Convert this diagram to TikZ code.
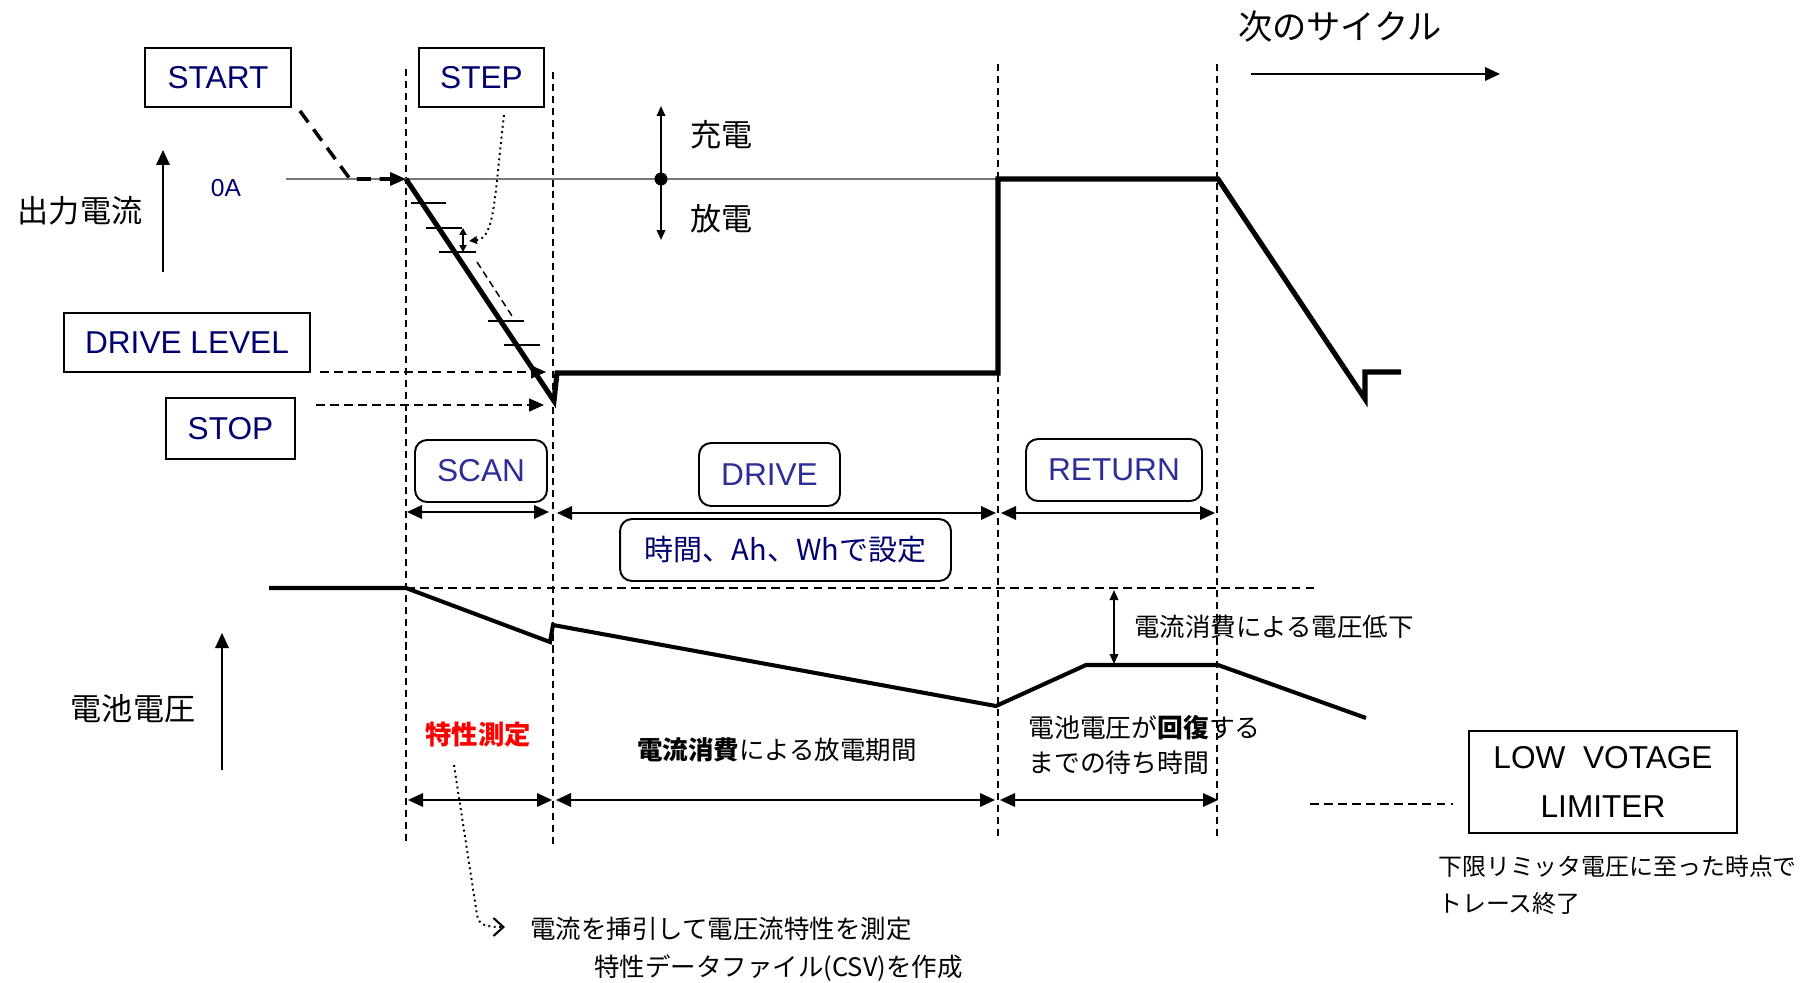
\documentclass[tikz,border=0pt]{standalone}
\usepackage{fontspec}
\setmainfont{Liberation Sans}
\newfontfamily\jp{Noto Sans CJK JP}
\usetikzlibrary{arrows.meta,calc}
\definecolor{navy}{RGB}{0,0,110}
\definecolor{lblue}{RGB}{45,45,150}
\definecolor{zgray}{RGB}{120,120,120}
\tikzset{
  lbl/.style={draw=black, line width=1.1pt, text=navy, font=\fontsize{18}{20}\selectfont, inner sep=0pt},
  rbox/.style={draw=black, line width=1.1pt, rounded corners=0.24cm, text=lblue, font=\fontsize{18}{20}\selectfont, inner sep=0pt},
  vdash/.style={line width=0.85pt, dash pattern=on 4pt off 2.8pt},
  hdash/.style={line width=0.85pt, dash pattern=on 5pt off 3pt},
  thickc/.style={line width=2.9pt},
  volt/.style={line width=2.3pt},
  tri/.tip={Triangle[length=0.3cm,width=0.27cm]},
  darr/.style={line width=1.1pt, tri-tri},
  sarr/.style={line width=1.1pt, {Triangle[length=0.2cm,width=0.17cm]}-{Triangle[length=0.2cm,width=0.17cm]}},
  jpt/.style={font=\jp\fontsize{14.5}{18}\selectfont, inner sep=0pt},
  jpbig/.style={font=\jp\fontsize{17.7}{20}\selectfont, inner sep=0pt},
  tick/.style={line width=1.1pt},
}
\begin{document}
\begin{tikzpicture}[x=0.02cm,y=-0.02cm]
\useasboundingbox (0,0) rectangle (1811,983);

% vertical dashed guide lines
\coordinate (v1t) at (406,69);  \coordinate (v1b) at (406,841);
\coordinate (v2t) at (553,72);  \coordinate (v2b) at (553,847);
\coordinate (v3t) at (998,64);  \coordinate (v3b) at (998,840);
\coordinate (v4t) at (1217,64); \coordinate (v4b) at (1217,840);
\draw[vdash] (v1t) -- (v1b);
\draw[vdash] (v2t) -- (v2b);
\draw[vdash] (v3t) -- (v3b);
\draw[vdash] (v4t) -- (v4b);

% label boxes
\node[lbl, minimum width=2.92cm, minimum height=1.18cm] (start) at (218,77.5) {START};
\node[lbl, minimum width=2.5cm, minimum height=1.18cm] (step) at (481.5,77.5) {STEP};
\node[lbl, minimum width=4.92cm, minimum height=1.18cm] (dlevel) at (187,342.5) {DRIVE LEVEL};
\node[lbl, minimum width=2.58cm, minimum height=1.22cm] (stop) at (230.5,428.5) {STOP};
\node[rbox, minimum width=2.64cm, minimum height=1.24cm] (scan) at (481,471) {SCAN};
\node[rbox, minimum width=2.82cm, minimum height=1.26cm] (drive) at (769.5,474.5) {DRIVE};
\node[rbox, minimum width=3.52cm, minimum height=1.24cm] (return) at (1114,470) {RETURN};
\node[rbox, text=navy, font=\jp\fontsize{16.5}{20}\selectfont, minimum width=6.62cm, minimum height=1.24cm] (setting) at (785.5,550) {時間、Ah、Whで設定};
\node[draw=black, line width=1.1pt, inner sep=0pt, minimum width=5.36cm, minimum height=2.04cm, align=center, font=\fontsize{18}{28}\selectfont] (lvl) at (1603,782) {LOW\ \ VOTAGE\\LIMITER};

% axis labels
\node[jpbig] (iout) at (80,211) {出力電流};
\node[jpbig] (vbat) at (133,709) {電池電圧};
\coordinate (ia0) at (163,272); \coordinate (ia1) at (163,150);
\draw[line width=1.1pt, -tri] (ia0) -- (ia1);
\coordinate (va0) at (222,770); \coordinate (va1) at (222,633);
\draw[line width=1.1pt, -tri] (va0) -- (va1);
\node[text=navy, font=\fontsize{14}{16}\selectfont, inner sep=0pt] (zeroA) at (226,188) {0A};

% next cycle
\node[font=\jp\fontsize{19.5}{22}\selectfont, inner sep=0pt] (next) at (1340,27) {次のサイクル};
\coordinate (n0) at (1251,74); \coordinate (n1) at (1500,74);
\draw[line width=1.1pt, -tri] (n0) -- (n1);

% zero current line
\coordinate (z0) at (286,179); \coordinate (z1) at (998,179);
\draw[zgray, line width=0.8pt] (z0) -- (z1);

% charge / discharge
\coordinate (cd0) at (661,106); \coordinate (cd1) at (661,240); \coordinate (cdm) at (661,179);
\draw[sarr] (cd0) -- (cd1);
\fill (cdm) circle[radius=0.13cm];
\node[jpbig, anchor=west] (chg) at (690,135) {充電};
\node[jpbig, anchor=west] (dchg) at (690,219) {放電};

% output current waveform
\coordinate (c0) at (406,179);
\coordinate (c1) at (554,401);
\coordinate (c2) at (557,373);
\coordinate (c3) at (998,373);
\coordinate (c4) at (998,179);
\coordinate (c5) at (1218,179);
\coordinate (c6) at (1365,399);
\coordinate (c7) at (1365,372);
\coordinate (c8) at (1401,372);
\draw[thickc] (c0) -- (c1) -- (c2) -- (c3) -- (c4) -- (c5) -- (c6) -- (c7) -- (c8);

% steps
\draw[tick] (411,203) -- (446,203);
\draw[tick] (426,228) -- (462,228);
\draw[tick] (439,252) -- (476,252);
\draw[tick] (488,321) -- (524,321);
\draw[tick] (504,345) -- (540,345);
\coordinate (sa0) at (463,228); \coordinate (sa1) at (463,252);
\draw[line width=1.1pt, {Triangle[length=0.14cm,width=0.14cm]}-{Triangle[length=0.14cm,width=0.14cm]}] (sa0) -- (sa1);
\coordinate (pd0) at (477,262); \coordinate (pd1) at (512,316);
\draw[line width=0.85pt, dash pattern=on 4pt off 2.5pt] (pd0) -- (pd1);
\coordinate (st0) at (504,115); \coordinate (st1) at (469,241);
\draw[line width=1.1pt, dotted, -{Triangle[length=0.16cm,width=0.15cm]}] (st0) .. controls (494,200) and (495,238) .. (st1);

% START arrow
\coordinate (sd0) at ($(start.south east)+(8,3)$);
\coordinate (sd1) at (350,179);
\draw[line width=2pt, dash pattern=on 8pt off 5pt, -{Triangle[length=0.32cm,width=0.26cm]}] (sd0) -- (sd1) -- (c0);

% DRIVE LEVEL / STOP arrows
\coordinate (dl0) at (320,372); \coordinate (dl1) at (546,372);
\draw[hdash, -{Triangle[length=0.3cm,width=0.26cm]}] (dl0) -- (dl1);
\coordinate (sp0) at (316,405); \coordinate (sp1) at (544,405);
\draw[hdash, -{Triangle[length=0.3cm,width=0.26cm]}] (sp0) -- (sp1);

% period arrows (upper)
\coordinate (a1l) at (407,512); \coordinate (a1r) at (549,512);
\coordinate (a2l) at (557,513); \coordinate (a2r) at (996,513);
\coordinate (a3l) at (1001,513); \coordinate (a3r) at (1215,513);
\draw[darr] (a1l) -- (a1r);
\draw[darr] (a2l) -- (a2r);
\draw[darr] (a3l) -- (a3r);

% battery voltage
\coordinate (u0) at (269,588);
\coordinate (u1) at (406,588);
\coordinate (u2) at (550,642);
\coordinate (u3) at (553,625);
\coordinate (u4) at (996,706);
\coordinate (u5) at (1086,665);
\coordinate (u6) at (1218,665);
\coordinate (u7) at (1366,718);
\draw[volt] (u0) -- (u1) -- (u2) -- (u3) -- (u4) -- (u5) -- (u6) -- (u7);
\coordinate (ref1) at (1319,588);
\draw[hdash] (u1) -- (ref1);
\coordinate (dr0) at (1114,590); \coordinate (dr1) at (1114,664);
\draw[sarr] (dr0) -- (dr1);
\node[jpt, anchor=west] (drop) at (1134,627) {電流消費による電圧低下};

% period texts
\node[jpt, text=red, font=\jp\bfseries\fontsize{15}{18}\selectfont] (meas) at (478,735) {特性測定};
\node[jpt] (disch) at (777,750) {{\bfseries 電流消費}による放電期間};
\node[jpt, anchor=west, align=left, font=\jp\fontsize{14.7}{19.5}\selectfont] (recov) at (1028,745) {電池電圧が{\bfseries 回復}する\\までの待ち時間};

% period arrows (lower)
\coordinate (b1l) at (408,800); \coordinate (b1r) at (552,800);
\coordinate (b2l) at (556,800); \coordinate (b2r) at (995,800);
\coordinate (b3l) at (1000,800); \coordinate (b3r) at (1218,800);
\draw[darr] (b1l) -- (b1r);
\draw[darr] (b2l) -- (b2r);
\draw[darr] (b3l) -- (b3r);

% low voltage limiter
\coordinate (ld0) at (1310,804); \coordinate (ld1) at (1453,804);
\draw[hdash] (ld0) -- (ld1);
\node[jpt, anchor=west, align=left, font=\jp\fontsize{13.6}{21}\selectfont] (lvtext) at (1438,885) {下限リミッタ電圧に至った時点で\\トレース終了};

% measurement note
\coordinate (m0) at (454,765); \coordinate (m1) at (505,927);
\draw[line width=1.1pt, dotted, -{Straight Barb[length=0.2cm,width=0.36cm,line width=1.2pt]}] (m0) -- (477,915) .. controls (479,925) and (485,927) .. (m1);
\node[jpt, anchor=west] (note1) at (530,929) {電流を挿引して電圧流特性を測定};
\node[jpt, anchor=west] (note2) at (594,968) {特性データファイル(CSV)を作成};

\end{tikzpicture}
\end{document}
